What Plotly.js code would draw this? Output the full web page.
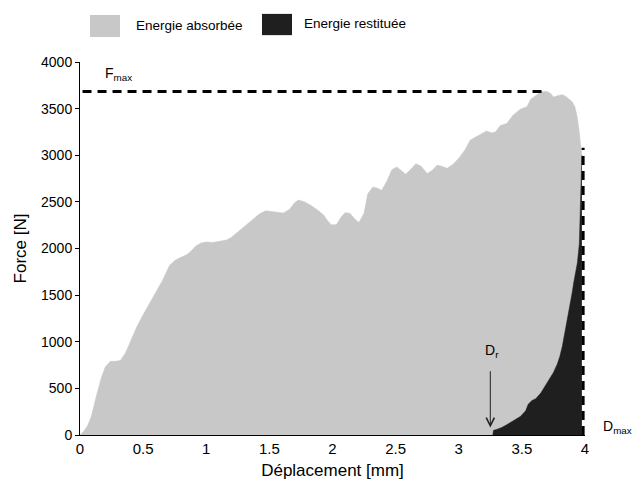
<!DOCTYPE html>
<html>
<head>
<meta charset="utf-8">
<script src="https://cdn.plot.ly/plotly-3.0.1.min.js"></script>
<style>
  html, body { margin: 0; padding: 0; background: #ffffff; }
  #chart { width: 633px; height: 482px; }
</style>
</head>
<body>
<div id="chart"></div>
<script>
// Loading curve (absorbed energy): displacement [mm] and force [N]
var loadDisp = [0, 0.03, 0.06, 0.09, 0.13, 0.17, 0.2, 0.24, 0.28, 0.32, 0.36, 0.4, 0.45, 0.5, 0.55, 0.6, 0.65, 0.71, 0.75, 0.79, 0.84, 0.87, 0.92, 0.96, 1.0, 1.05, 1.1, 1.16, 1.2, 1.27, 1.32, 1.37, 1.42, 1.47, 1.51, 1.55, 1.61, 1.66, 1.7, 1.73, 1.78, 1.83, 1.88, 1.93, 1.96, 1.99, 2.03, 2.07, 2.1, 2.14, 2.18, 2.21, 2.25, 2.28, 2.32, 2.35, 2.39, 2.43, 2.47, 2.51, 2.55, 2.58, 2.62, 2.66, 2.7, 2.75, 2.79, 2.83, 2.87, 2.91, 2.96, 3.01, 3.05, 3.09, 3.14, 3.18, 3.22, 3.26, 3.29, 3.33, 3.38, 3.43, 3.49, 3.54, 3.57, 3.61, 3.65, 3.68, 3.7, 3.73, 3.75, 3.79, 3.82, 3.85, 3.87, 3.9, 3.92, 3.94, 3.95, 3.96, 3.97, 3.975];
var loadForce = [0, 40, 100, 200, 420, 620, 730, 790, 790, 800, 880, 1000, 1160, 1290, 1415, 1530, 1650, 1820, 1870, 1900, 1930, 1960, 2030, 2060, 2070, 2065, 2075, 2090, 2120, 2200, 2260, 2320, 2370, 2405, 2400, 2395, 2380, 2420, 2490, 2520, 2500, 2460, 2415, 2360, 2300, 2255, 2255, 2340, 2385, 2375, 2310, 2280, 2380, 2590, 2660, 2650, 2625, 2720, 2845, 2875, 2830, 2795, 2850, 2910, 2885, 2805, 2840, 2895, 2880, 2860, 2910, 2985, 3060, 3160, 3200, 3230, 3260, 3240, 3250, 3320, 3340, 3430, 3495, 3520, 3600, 3640, 3680, 3684, 3684, 3660, 3625, 3640, 3650, 3630, 3610, 3570, 3520, 3400, 3300, 3150, 3050, 3000];

// Unloading curve (restituted energy)
var unloadDisp = [3.27, 3.275, 3.3, 3.34, 3.38, 3.43, 3.49, 3.53, 3.55, 3.58, 3.61, 3.65, 3.68, 3.72, 3.75, 3.78, 3.8, 3.82, 3.84, 3.86, 3.88, 3.9, 3.91, 3.93, 3.94, 3.955, 3.965, 3.975];
var unloadForce = [0, 50, 60, 80, 110, 150, 200, 260, 330, 370, 390, 450, 520, 600, 670, 760, 840, 950, 1090, 1230, 1380, 1540, 1630, 1760, 1850, 2050, 2450, 3000];

// Reference values
var Fmax = 3684;          // N
var dispAtFmax = 3.69;    // mm
var Dmax = 3.985;         // mm
var DmaxLineTop = 3080;   // N
var Dr = 3.25;            // mm

var fmaxLineX = [0.02, dispAtFmax];
var fmaxLineY = [Fmax, Fmax];
var dmaxLineX = [Dmax, Dmax];
var dmaxLineY = [0, DmaxLineTop];

var xTicks = [0, 0.5, 1, 1.5, 2, 2.5, 3, 3.5, 4];
var xTickText = ['0', '0.5', '1', '1.5', '2', '2.5', '3', '3.5', '4'];
var yTicks = [0, 500, 1000, 1500, 2000, 2500, 3000, 3500, 4000];

var grayCol = '#c8c8c8';
var darkCol = '#1f1f1f';
var textCol = '#000000';
var fontFam = '"Liberation Sans", Arial, sans-serif';

var traces = [
  { x: loadDisp, y: loadForce, type: 'scatter', mode: 'lines', fill: 'tozeroy',
    fillcolor: grayCol, line: { color: grayCol, width: 0.5 }, name: 'Energie absorbée',
    showlegend: false, hoverinfo: 'skip' },
  { x: unloadDisp, y: unloadForce, type: 'scatter', mode: 'lines', fill: 'tozeroy',
    fillcolor: darkCol, line: { color: darkCol, width: 0.5 }, name: 'Energie restituée',
    showlegend: false, hoverinfo: 'skip' },
  { x: fmaxLineX, y: fmaxLineY, type: 'scatter', mode: 'lines',
    line: { color: '#000000', width: 3, dash: '9px,6px' }, showlegend: false, hoverinfo: 'skip', cliponaxis: false },
  { x: dmaxLineX, y: dmaxLineY, type: 'scatter', mode: 'lines',
    line: { color: '#000000', width: 3, dash: '9px,6px' }, showlegend: false, hoverinfo: 'skip', cliponaxis: false }
];

var layout = {
  width: 633, height: 482,
  margin: { l: 80, r: 48, t: 62, b: 47 },
  paper_bgcolor: '#ffffff', plot_bgcolor: '#ffffff',
  font: { family: fontFam, color: textCol, size: 14 },
  showlegend: false,
  xaxis: {
    range: [0, 4], tickvals: xTicks, ticktext: xTickText,
    showgrid: false, zeroline: false, showline: true, linecolor: '#000', linewidth: 1,
    ticks: 'inside', ticklen: 3, tickcolor: '#000', layer: 'below traces',
    tickfont: { size: 15, family: fontFam, color: textCol },
    title: { text: 'Déplacement [mm]', font: { size: 17, family: fontFam, color: textCol }, standoff: 8 }
  },
  yaxis: {
    range: [0, 4000], tickvals: yTicks,
    showgrid: false, zeroline: false, showline: true, linecolor: '#000', linewidth: 1,
    ticks: 'outside', ticklen: 4, tickcolor: '#000',
    tickfont: { size: 14, family: fontFam, color: textCol },
    title: { text: 'Force [N]', font: { size: 17, family: fontFam, color: textCol }, standoff: 10 }
  },
  shapes: [
    { type: 'rect', xref: 'paper', yref: 'paper', x0: 0.0198, x1: 0.0792, y0: 1.067, y1: 1.126,
      fillcolor: grayCol, line: { width: 0 } },
    { type: 'rect', xref: 'paper', yref: 'paper', x0: 0.3604, x1: 0.4198, y0: 1.072, y1: 1.129,
      fillcolor: darkCol, line: { width: 0 } }
  ],
  annotations: [
    { xref: 'paper', yref: 'paper', x: 0.1069, y: 1.099, xanchor: 'left', yanchor: 'middle',
      text: 'Energie absorbée', showarrow: false, font: { size: 13.5, family: fontFam, color: textCol } },
    { xref: 'paper', yref: 'paper', x: 0.4396, y: 1.102, xanchor: 'left', yanchor: 'middle',
      text: 'Energie restituée', showarrow: false, font: { size: 13.5, family: fontFam, color: textCol } },
    { x: 0.18, y: 3870, xanchor: 'left', yanchor: 'middle', showarrow: false,
      text: 'F<sub>max</sub>', font: { size: 14, family: fontFam, color: textCol } },
    { x: Dr + 0.01, y: 900, xanchor: 'center', yanchor: 'middle', showarrow: false,
      text: 'D<sub>r</sub>', font: { size: 14, family: fontFam, color: textCol } },
    { x: Dr, y: 80, ax: Dr, ay: 700, axref: 'x', ayref: 'y', showarrow: true, text: '',
      arrowhead: 5, arrowsize: 1.6, arrowwidth: 1, arrowcolor: '#222' },
    { xref: 'paper', yref: 'paper', x: 1.031, y: 0.022, xanchor: 'left', yanchor: 'middle', showarrow: false,
      text: 'D<sub>max</sub>', font: { size: 14, family: fontFam, color: textCol } }
  ]
};

Plotly.newPlot('chart', traces, layout, { displayModeBar: false, staticPlot: true });
</script>
</body>
</html>
